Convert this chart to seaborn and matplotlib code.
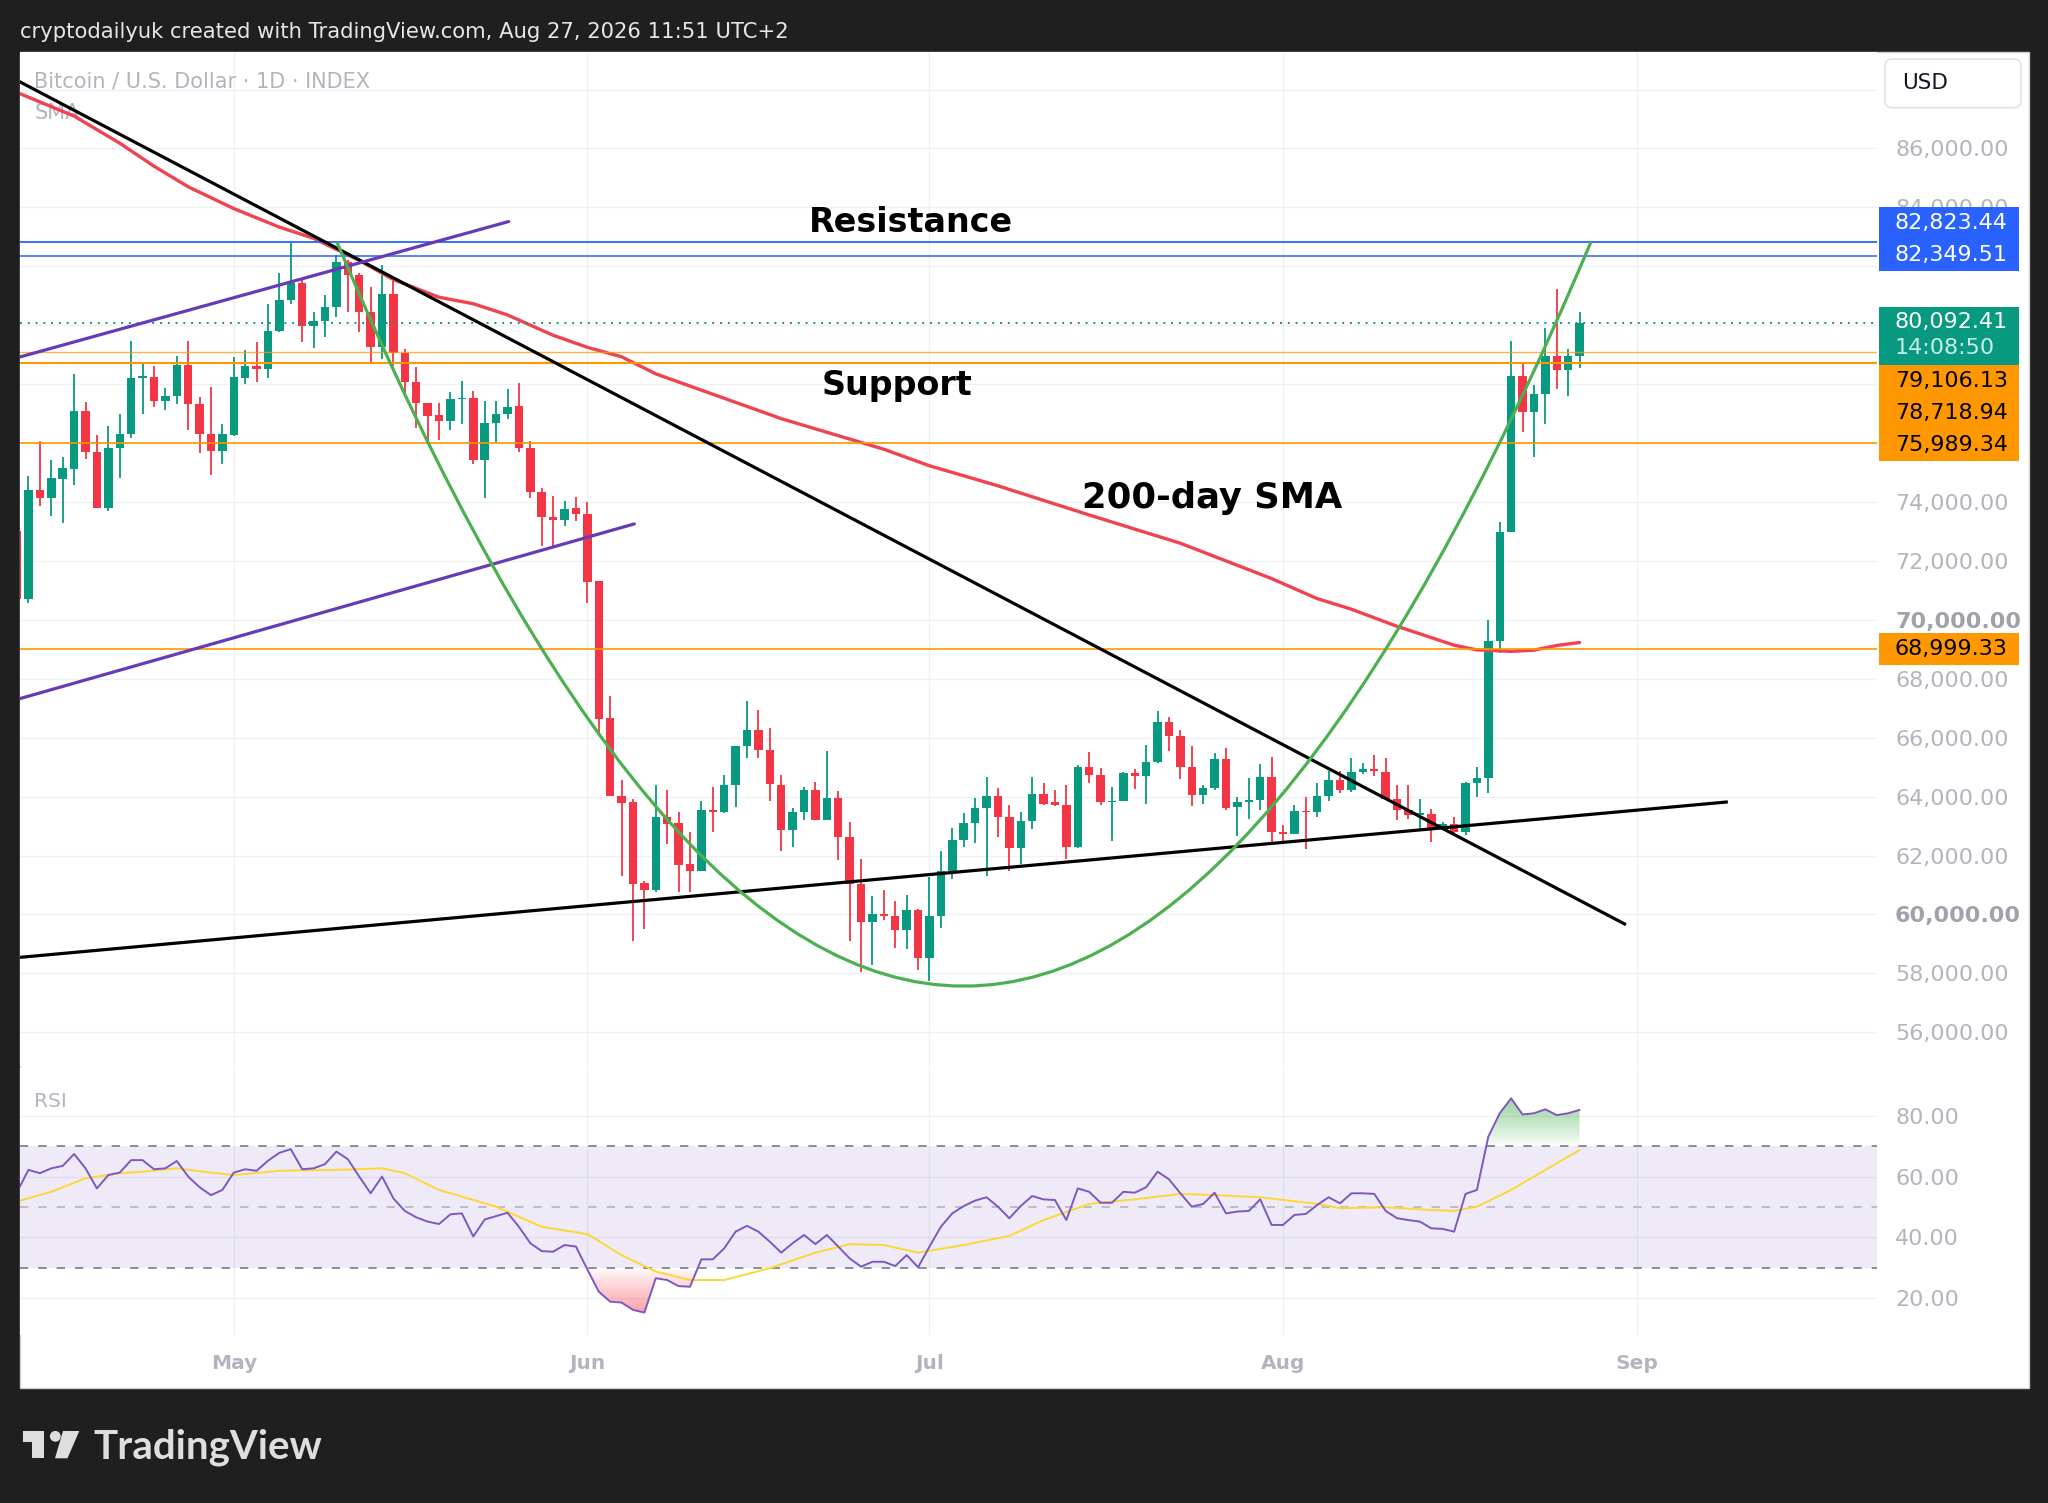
import numpy as np
import pandas as pd
import matplotlib
matplotlib.use("Agg")
import matplotlib.pyplot as plt
import matplotlib.dates as mdates
import matplotlib.transforms as mtransforms
from matplotlib.patches import Rectangle, FancyBboxPatch, Polygon, Circle, PathPatch
from matplotlib.path import Path
import seaborn as sns

# ---------------- data ----------------
first_day = "2026-04-12"
last_day = "2026-08-27"

opens = [73020, 70700, 74410, 74150, 74780, 75120, 77090, 75700, 73810, 75840, 76300, 78210, 78240, 77420, 77600, 78660, 77330, 76300, 75720,
         76270, 78210, 78630, 78530, 79800, 80840, 81420, 79960, 80150, 80630, 82150, 81720, 80450, 79270, 81060, 79060, 78090, 77360, 76970, 76750,
         77480, 77540, 75420, 76670, 77000, 77270, 75840, 74330, 73500, 73380, 73800,
         73580, 71330, 66670, 64010, 63800, 61070, 60830, 63310, 63090, 61700, 61470, 63550, 63490, 64400, 65710, 66260, 65590, 64400, 62850, 63470,
         64240, 63210, 63940, 62640, 61030, 59730, 60010, 59950, 59480, 60160,
         58520, 59940, 61490, 62520, 63090, 63610, 64010, 63310, 62240, 63170, 64100, 63800, 63700, 62280, 65010, 64740, 63800, 63860, 64800, 64700,
         65190, 66520, 66070, 65020, 64070, 64280, 65290, 63660, 63800, 63880, 64680,
         62810, 62730, 63500, 63480, 64010, 64580, 64240, 64840, 64950, 64840, 63910, 63530, 63370, 63400, 62990, 63080, 62810, 64470, 64640, 69270,
         72980, 78270, 77040, 77680, 78940, 78490, 78940]
highs = [73300, 74870, 76060, 75420, 75540, 78360, 77400, 76270, 76570, 77000, 79480, 78690, 78600, 77870, 78960, 79480, 77560, 77900, 76660,
         78910, 79150, 79420, 80730, 81780, 82800, 81600, 80450, 81020, 82390, 82200, 81780, 81300, 82030, 81500, 79180, 78570, 77360, 77360, 77750,
         78110, 77780, 77420, 77420, 77840, 78030, 76060, 74470, 74210, 74030, 74180,
         73990, 71330, 67410, 64580, 63920, 61150, 64380, 64220, 63490, 62810, 63860, 64340, 64740, 65730, 67240, 66950, 66340, 64730, 63610, 64340,
         64500, 65550, 64180, 63130, 61880, 60640, 60830, 60460, 60670, 60200,
         61270, 62160, 62950, 63430, 63940, 64670, 64300, 63700, 63460, 64670, 64460, 64220, 64380, 65070, 65520, 64970, 64340, 64830, 64950, 65760,
         66890, 66700, 66250, 65720, 64380, 65490, 65650, 63970, 64640, 65090, 65350,
         63040, 63710, 63970, 64470, 64870, 64870, 65310, 65140, 65410, 65310, 64380, 64380, 63930, 63570, 63130, 63300, 64510, 65010, 70000, 73310,
         79450, 78710, 77980, 79920, 81220, 79180, 80460]
lows = [70400, 70570, 73870, 73540, 73300, 74570, 75460, 73800, 73690, 74810, 76170, 77000, 77240, 77120, 77330, 76450, 75660, 74910, 75300,
        76240, 78000, 78090, 78210, 79780, 80720, 79420, 79240, 79600, 80270, 80450, 79780, 78750, 78870, 78630, 77660, 76510, 76030, 76090, 76450,
        76660, 75300, 74150, 76050, 76810, 75690, 74150, 72490, 72510, 73180, 73340,
        70570, 66120, 64010, 61310, 59090, 59490, 60770, 62400, 60770, 60770, 61470, 62790, 63430, 63650, 65310, 65310, 63860, 62160, 62280, 63190,
        63190, 63210, 61860, 59090, 58040, 58280, 59800, 58860, 58830, 58100,
        57740, 59550, 61190, 62280, 62440, 61310, 62640, 61490, 61710, 62890, 63700, 63670, 61880, 62240, 64460, 63700, 62490, 63860, 64260, 63740,
        65150, 65550, 64600, 63670, 63750, 64240, 63530, 62670, 63240, 63530, 62430,
        62460, 62730, 62230, 63300, 63840, 64110, 64150, 64780, 64710, 63880, 63200, 63240, 62900, 62460, 62900, 62770, 62700, 63970, 64110, 68860,
        72980, 76370, 75540, 76640, 77820, 77600, 78540]
closes = [70700, 74410, 74150, 74810, 75140, 77090, 75700, 73810, 75840, 76300, 78210, 78270, 77420, 77600, 78660, 77330, 76300, 75720, 76300,
          78230, 78630, 78530, 79820, 80870, 81420, 79960, 80150, 80630, 82150, 81720, 80450, 79270, 81060, 79060, 78090, 77360, 76910, 76750, 77480,
          77540, 75420, 76670, 77000, 77240, 75840, 74330, 73500, 73380, 73760, 73580,
          71300, 66640, 64010, 63770, 61030, 60830, 63310, 63070, 61670, 61470, 63550, 63490, 64400, 65710, 66260, 65590, 64430, 62850, 63470, 64240,
          63210, 63940, 62640, 61030, 59730, 60010, 59950, 59460, 60160, 58520,
          59940, 61490, 62520, 63090, 63610, 64010, 63310, 62240, 63170, 64100, 63760, 63730, 62280, 65010, 64740, 63800, 63860, 64800, 64700, 65190,
          66520, 66070, 65020, 64070, 64280, 65290, 63610, 63800, 63880, 64680, 62810,
          62730, 63500, 63480, 64010, 64580, 64240, 64840, 64950, 64870, 63910, 63530, 63370, 63440, 62940, 63080, 62810, 64470, 64640, 69270, 72980,
          78270, 77040, 77680, 78940, 78490, 78940, 80092.41]

sma200_dates = ["2026-04-12", "2026-04-17", "2026-04-21", "2026-04-24", "2026-04-27", "2026-05-01", "2026-05-05", "2026-05-08",
                "2026-05-12", "2026-05-15", "2026-05-19", "2026-05-22", "2026-05-25", "2026-05-29", "2026-06-01", "2026-06-04",
                "2026-06-07", "2026-06-18", "2026-06-27", "2026-07-01", "2026-07-07", "2026-07-15", "2026-07-23", "2026-07-26",
                "2026-07-31", "2026-08-04", "2026-08-07", "2026-08-11", "2026-08-16", "2026-08-18", "2026-08-21", "2026-08-23",
                "2026-08-25", "2026-08-27"]
sma200_values = [87900, 87100, 86180, 85400, 84700, 83960, 83330, 82950, 82200, 81550, 80950, 80730, 80350, 79660, 79250, 78930,
                 78350, 76830, 75790, 75230, 74550, 73560, 72600, 72150, 71400, 70720, 70360, 69780, 69140, 68980, 68930, 68970,
                 69130, 69230]

rsi_values = [55.0, 62.2, 61.1, 62.7, 63.5, 67.4, 62.7, 56.1, 60.5, 61.3, 65.4, 65.4, 62.4, 62.7, 65.1, 60.0, 56.5, 53.9, 55.6,
              61.3, 62.4, 61.9, 65.2, 67.8, 69.0, 62.4, 62.7, 64.1, 68.2, 65.7, 60.0, 54.5, 60.0, 52.8, 48.7, 46.6, 45.2, 44.4, 47.6,
              47.9, 40.3, 45.9, 47.0, 48.1, 43.5, 38.1, 35.5, 35.3, 37.5, 37.0,
              29.5, 22.2, 18.9, 18.6, 16.2, 15.3, 26.6, 26.0, 24.0, 23.8, 32.8, 32.8, 36.4, 41.9, 43.8, 41.9, 38.6, 35.0, 38.1, 40.8,
              37.8, 40.8, 37.0, 33.1, 30.4, 32.0, 32.0, 30.6, 34.2, 30.2,
              37.0, 43.5, 47.9, 50.3, 52.1, 53.2, 50.1, 46.3, 50.3, 53.6, 52.5, 52.3, 45.7, 56.1, 55.0, 51.4, 51.4, 55.0, 54.7, 56.5,
              61.6, 59.1, 54.5, 50.1, 51.0, 54.7, 47.9, 48.5, 48.7, 52.5, 44.1,
              44.1, 47.4, 47.7, 50.7, 53.2, 51.2, 54.5, 54.5, 54.3, 48.7, 46.3, 45.7, 45.2, 43.0, 42.8, 41.9, 54.3, 55.6, 73.1, 80.8,
              85.7, 80.4, 80.8, 82.1, 80.2, 80.8, 81.9]
rsi_ma_dates = ["2026-04-12", "2026-04-15", "2026-04-18", "2026-04-21", "2026-04-23", "2026-04-26", "2026-04-29", "2026-05-01",
                "2026-05-05", "2026-05-10", "2026-05-14", "2026-05-16", "2026-05-19", "2026-05-24", "2026-05-28", "2026-06-01",
                "2026-06-04", "2026-06-07", "2026-06-10", "2026-06-13", "2026-06-17", "2026-06-21", "2026-06-24", "2026-06-27",
                "2026-06-30", "2026-07-04", "2026-07-08", "2026-07-11", "2026-07-15", "2026-07-19", "2026-07-23", "2026-07-26",
                "2026-07-30", "2026-08-04", "2026-08-06", "2026-08-10", "2026-08-14", "2026-08-16", "2026-08-18", "2026-08-21",
                "2026-08-24", "2026-08-27"]
rsi_ma_values = [51.8, 55.0, 59.4, 61.1, 61.6, 62.7, 61.3, 60.5, 61.9, 62.2, 62.7, 61.1, 55.6, 50.1, 43.5, 41.1,
                 34.2, 28.8, 26.0, 26.0, 29.9, 35.0, 37.8, 37.5, 35.0, 37.5, 40.5, 45.7, 51.0, 52.5, 54.3, 53.9,
                 53.2, 51.0, 49.6, 49.9, 49.0, 48.7, 50.1, 55.6, 62.2, 68.7]

resistance_levels = [82823.44, 82349.51]
support_levels = [79106.13, 78718.94, 75989.34, 68999.33]
countdown_text = "14:08:50"

down_trend_dates = ["2026-04-11 00:00", "2026-08-31 01:40"]
down_trend_prices = [88515, 59652]
up_trend_dates = ["2026-04-11 00:00", "2026-09-09 00:00"]
up_trend_prices = [58499, 63820]
channel_top_dates = ["2026-04-11 00:00", "2026-05-25 02:24"]
channel_top_prices = [78789, 83520]
channel_bot_dates = ["2026-04-11 00:00", "2026-06-05 03:00"]
channel_bot_prices = [67189, 73257]
arc_dates = ["2026-05-10 01:00", "2026-07-04 00:00", "2026-08-28 00:00"]
arc_prices = [82830, 32300, 82830]

month_starts = ["2026-05-01", "2026-06-01", "2026-07-01", "2026-08-01", "2026-09-01"]
month_labels = ["May", "Jun", "Jul", "Aug", "Sep"]
price_ticks = list(range(56000, 90000, 2000))
# price scale labels that TradingView hides behind the coloured price tags
hidden_price_labels = [76000, 78000, 80000, 82000, 88000]
rsi_ticks = [20, 40, 60, 80]

# ---------------- styling ----------------
sns.set_theme(style="white")
plt.rcParams["font.family"] = ["DejaVu Sans"]

UP, DOWN = "#089981", "#f23645"
GRAY = "#b2b5be"
W, H = 2048, 1503
fig = plt.figure(figsize=(W / 100, H / 100), dpi=100, facecolor="#1f1f1f")
ident = mtransforms.IdentityTransform()


def fx(px):
    return px / W


def fy(py):
    return 1 - py / H


fig.add_artist(Rectangle((fx(19.6), fy(1388)), fx(2029) - fx(19.6), fy(52) - fy(1388),
                         transform=fig.transFigure, facecolor="white", edgecolor="#cfcfcf", lw=1, zorder=-5))

ax = fig.add_axes([fx(19.6), fy(1066), fx(1877) - fx(19.6), fy(52) - fy(1066)])
axr = fig.add_axes([fx(19.6), fy(1335), fx(1877) - fx(19.6), fy(1068) - fy(1335)], sharex=ax)
for a in (ax, axr):
    a.set_facecolor("white")
    for s in a.spines.values():
        s.set_visible(False)

df = pd.DataFrame({"date": pd.date_range(first_day, last_day, freq="D"),
                   "open": opens, "high": highs, "low": lows, "close": closes, "rsi": rsi_values})
is_up = (df["close"] >= df["open"]).to_numpy()
cols = np.where(is_up, UP, DOWN)
body_lo = np.minimum(df["open"], df["close"])
body_h = np.maximum((df["close"] - df["open"]).abs(), 45)

# candles
ax.vlines(df["date"], df["low"], df["high"], colors=cols, lw=1.3, zorder=3)
ax.bar(df["date"], body_h, bottom=body_lo, width=0.74, color=cols, linewidth=0, zorder=3.1)

# 200 SMA
sns.lineplot(x=pd.to_datetime(sma200_dates), y=sma200_values, ax=ax, color="#f0434f", linewidth=2.4, zorder=4)

# horizontal levels
for lvl, lw, al in zip(resistance_levels, [1.3, 1.1], [1, 1]):
    ax.axhline(lvl, color="#2962ff", lw=lw, alpha=al, zorder=5)
for lvl, lw, al in zip(support_levels, [1.0, 1.5, 1.2, 1.2], [0.75, 1, 1, 1]):
    ax.axhline(lvl, color="#ff9800", lw=lw, alpha=al, zorder=5)
ax.axhline(closes[-1], color=UP, lw=1.4, ls=(0, (1, 3)), zorder=5)

# drawings
ax.plot(pd.to_datetime(down_trend_dates), down_trend_prices, color="black", lw=2.3, zorder=5.5, solid_capstyle="butt")
ax.plot(pd.to_datetime(up_trend_dates), up_trend_prices, color="black", lw=2.3, zorder=5.5, solid_capstyle="butt")
ax.plot(pd.to_datetime(channel_top_dates), channel_top_prices, color="#673ab7", lw=2.3, zorder=5.5)
ax.plot(pd.to_datetime(channel_bot_dates), channel_bot_prices, color="#673ab7", lw=2.3, zorder=5.5)
arc_x = mdates.date2num(pd.to_datetime(arc_dates))
arc_path = Path(list(zip(arc_x, arc_prices)), [Path.MOVETO, Path.CURVE3, Path.CURVE3])
ax.add_patch(PathPatch(arc_path, facecolor="none", edgecolor="#4caf50", lw=2.3, zorder=5.5, transform=ax.transData))

# annotations
ax.text(pd.Timestamp("2026-06-29 10:00"), 83504, "Resistance", fontsize=24, weight="bold", ha="center", va="center", color="black", zorder=7)
ax.text(pd.Timestamp("2026-06-28 04:00"), 77961, "Support", fontsize=24, weight="bold", ha="center", va="center", color="black", zorder=7)
ax.text(pd.Timestamp("2026-07-25 18:00"), 74149, "200-day SMA", fontsize=25.5, weight="bold", ha="center", va="center", color="black", zorder=7)

ax.text(0.008, 0.9707, "Bitcoin / U.S. Dollar · 1D · INDEX", transform=ax.transAxes, fontsize=15, color=GRAY, va="center", ha="left", zorder=1)
ax.text(0.008, 0.9398, "SMA", transform=ax.transAxes, fontsize=15, color=GRAY, va="center", ha="left", zorder=1)

# ---------------- RSI pane ----------------
axr.axhspan(30, 70, color=(126 / 255, 87 / 255, 194 / 255), alpha=0.12, lw=0, zorder=1)
axr.axhline(70, color="#787b86", lw=1.2, ls=(0, (5, 6)), zorder=2)
axr.axhline(50, color=GRAY, lw=1.2, ls=(0, (5, 6)), zorder=2)
axr.axhline(30, color="#787b86", lw=1.2, ls=(0, (5, 6)), zorder=2)


def gradient_band(axis, xs, ys, level, above, rgb, alpha_max):
    xn = mdates.date2num(pd.to_datetime(xs))
    ys = np.asarray(ys, float)
    mask = ys >= level if above else ys <= level
    coll = axis.fill_between(xn, ys, level, where=mask, interpolate=True, facecolor="none", edgecolor="none")
    img = np.zeros((256, 1, 4))
    img[..., 0], img[..., 1], img[..., 2] = rgb
    ramp = np.linspace(0, 1, 256) ** 0.8
    if above:
        img[:, 0, 3] = alpha_max * ramp
        lo, hi = level, ys.max()
    else:
        img[:, 0, 3] = alpha_max * ramp[::-1]
        lo, hi = ys.min(), level
    for path in coll.get_paths():
        im = axis.imshow(img, extent=[xn.min(), xn.max(), lo, hi], origin="lower", aspect="auto",
                         zorder=2.5, interpolation="bilinear")
        im.set_clip_path(path, transform=axis.transData)


gradient_band(axr, df["date"], df["rsi"], 70, True, (0.30, 0.69, 0.31), 0.55)
gradient_band(axr, df["date"], df["rsi"], 30, False, (0.95, 0.21, 0.27), 0.45)

sns.lineplot(x=pd.to_datetime(rsi_ma_dates), y=rsi_ma_values, ax=axr, color="#fdd835", linewidth=1.4, zorder=3.5)
sns.lineplot(data=df, x="date", y="rsi", ax=axr, color="#7e57c2", linewidth=1.4, zorder=4)
axr.text(0.008, 0.876, "RSI", transform=axr.transAxes, fontsize=14.5, color=GRAY, va="center", ha="left")

# ---------------- axes / ticks ----------------
x0 = pd.Timestamp(first_day) + pd.Timedelta(days=0.22)
x1 = pd.Timestamp(first_day) + pd.Timedelta(days=163.08)
ax.set_xlim(x0, x1)
ax.set_ylim(54855, 89275)
axr.set_ylim(7.94, 95.67)

ax.set_xticks(pd.to_datetime(month_starts))
for a in (ax, axr):
    a.grid(True, color="#eef0f3", lw=1)
    a.set_axisbelow(True)
    a.set_xlabel("")
    a.set_ylabel("")
    a.yaxis.tick_right()
    a.tick_params(axis="x", length=0, labelbottom=False)
    a.tick_params(axis="y", length=0, pad=13, labelsize=16, labelcolor=GRAY)

ax.set_yticks(price_ticks)
ax.set_yticklabels(["" if p in hidden_price_labels else f"{p:,.2f}" for p in price_ticks])
for lbl, p in zip(ax.get_yticklabels(), price_ticks):
    if p % 10000 == 0:
        lbl.set_fontweight("bold")
        lbl.set_color("#9fa2ab")
axr.set_yticks(rsi_ticks)
axr.set_yticklabels([f"{v:.2f}" for v in rsi_ticks])

blend = mtransforms.blended_transform_factory(axr.transData, axr.transAxes)
for d, lab in zip(pd.to_datetime(month_starts), month_labels):
    axr.text(d, -0.105, lab, transform=blend, ha="center", va="center", fontsize=14.5, color=GRAY, weight="semibold", clip_on=False)

# ---------------- right-axis price tags ----------------
def top_px(price):
    return H - ax.transData.transform((0, price))[1]


def tag(y_center_top, h, face):
    fig.add_artist(Rectangle((1879, H - y_center_top - h / 2), 140, h, transform=ident,
                             facecolor=face, edgecolor=face, lw=0, zorder=10))


def tag_text(y_top, s, color, alpha=1.0):
    fig.text(1895, H - y_top, s, transform=ident, fontsize=16, color=color, alpha=alpha,
             ha="left", va="center", zorder=11)


tag_specs = [(resistance_levels[0], "#2962ff", "white", 19.0),
             (resistance_levels[1], "#2962ff", "white", 1.0),
             (support_levels[0], "#ff9800", "black", -29.4),
             (support_levels[1], "#ff9800", "black", -50.3),
             (support_levels[2], "#ff9800", "black", -1.6),
             (support_levels[3], "#ff9800", "black", 0.0)]
for price, face, tcol, shift in tag_specs:
    yc = top_px(price) - shift
    tag(yc, 32, face)
    tag_text(yc, f"{price:,.2f}", tcol)

yl = top_px(closes[-1])
tag(yl + 13.5, 58, UP)
tag_text(yl - 0.8, f"{closes[-1]:,.2f}", "white")
tag_text(yl + 25.8, countdown_text, "white", alpha=0.8)

# USD box
fig.add_artist(FancyBboxPatch((1885, H - 107.7), 136, 48.7, boxstyle="round,pad=0,rounding_size=7",
                              transform=ident, facecolor="white", edgecolor="#e0e3eb", lw=1.2, zorder=10))
fig.text(1901.7, H - 83.3, "USD", transform=ident, fontsize=15.5, color="#131722", ha="left", va="center", zorder=11)

# ---------------- header & footer ----------------
fig.text(fx(20), fy(31.7), "cryptodailyuk created with TradingView.com, Aug 27, 2026 11:51 UTC+2",
         color="#e6e6e6", fontsize=15.2, va="center", ha="left")

logo_col = "#dedede"
pts_bar = [(22.7, 1431), (44, 1431), (44, 1458.3), (32.3, 1458.3), (32.3, 1441.5), (22.7, 1441.5)]
fig.add_artist(Polygon([(x, H - y) for x, y in pts_bar], closed=True, transform=ident, facecolor=logo_col, lw=0))
fig.add_artist(Circle((55.3, H - 1436.3), 5.4, transform=ident, facecolor=logo_col, lw=0))
pts_sl = [(63.0, 1431), (79.3, 1431), (67.5, 1458.3), (55.0, 1458.3)]
fig.add_artist(Polygon([(x, H - y) for x, y in pts_sl], closed=True, transform=ident, facecolor=logo_col, lw=0))
fig.text(fx(93), fy(1458), "TradingView", fontsize=29, weight="bold", family=["Lato", "DejaVu Sans"],
         color=logo_col, va="baseline", ha="left")

fig.savefig("out.png", dpi=100, facecolor=fig.get_facecolor())
